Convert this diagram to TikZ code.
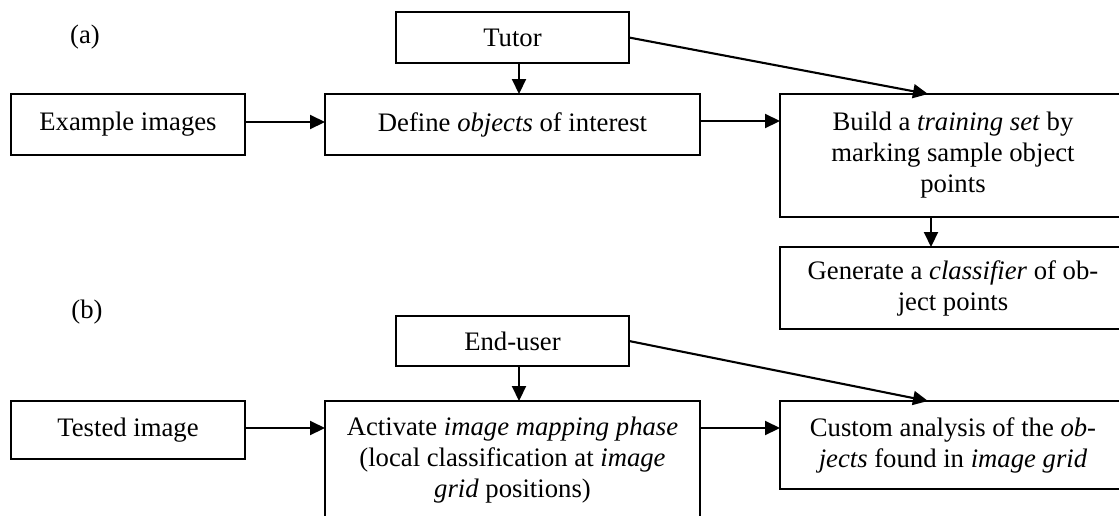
\documentclass[tikz,border=0pt]{standalone}
\usepackage{fontspec}
\setmainfont{Liberation Serif}
\usetikzlibrary{arrows.meta,calc}
\begin{document}
\begin{tikzpicture}[x=1pt,y=-1pt,
  box/.style={draw,line width=2.1pt,anchor=north west,inner sep=0pt,outer sep=0pt,align=center,
    font=\fontsize{26.7}{31}\selectfont},
  lab/.style={font=\fontsize{26.7}{31}\selectfont},
  arr/.style={line width=2.1pt,-{Triangle[length=15pt,width=14pt]}}]
\useasboundingbox (0,0) rectangle (1119,515);
\clip (0,0) rectangle (1119,515);
% (a)
\node[lab] (la) at (85,37) {(a)};
\node[box,minimum width=233pt,minimum height=51pt] (tutor) at (396,12) {Tutor};
\node[box,minimum width=234pt,minimum height=61pt] (example) at (11,94) {Example images};
\node[box,minimum width=375pt,minimum height=61pt] (define) at (325,94) {Define \textit{objects} of interest};
\node[box,minimum width=346pt,minimum height=123pt] (build) at (780,94) {Build a \textit{training set} by\\marking sample object\\points};
\node[box,minimum width=346pt,minimum height=82pt] (generate) at (780,247) {Generate a \textit{classifier} of ob-\\ject points};
% (b)
\node[lab] (lb) at (87,312) {(b)};
\node[box,minimum width=233pt,minimum height=50pt] (enduser) at (396,316) {End-user};
\node[box,minimum width=234pt,minimum height=58pt] (tested) at (11,401) {Tested image};
\node[box,minimum width=375pt,minimum height=118pt] (activate) at (325,401) {Activate \textit{image mapping phase}\\(local classification at \textit{image}\\\textit{grid} positions)};
\node[box,minimum width=346pt,minimum height=88pt] (custom) at (780,401) {Custom analysis of the \textit{ob-}\\\textit{jects} found in \textit{image grid}};
% connectors (a)
\draw[arr] ($(tutor.south)+(6.5,0)$) coordinate (t1) -- (t1 |- define.north);
\draw[arr] ($(example.east)+(0,-2.5)$) coordinate (x1) -- (x1 -| define.west);
\draw[arr] ($(define.east)+(0,-3.5)$) coordinate (d1) -- (d1 -| build.west);
\draw[arr] (tutor.east) -- ($(build.north west)+(148,0)$);
\draw[arr] ($(build.south west)+(151,0)$) coordinate (b1) -- (b1 |- generate.north);
% connectors (b)
\draw[arr] ($(enduser.south)+(6.5,0)$) coordinate (e1) -- (e1 |- activate.north);
\draw[arr] ($(tested.east)+(0,-2)$) coordinate (s1) -- (s1 -| activate.west);
\draw[arr] ($(activate.north east)+(0,27)$) coordinate (a1) -- (a1 -| custom.west);
\draw[arr] (enduser.east) -- ($(custom.north west)+(148,0)$);
\end{tikzpicture}
\end{document}
